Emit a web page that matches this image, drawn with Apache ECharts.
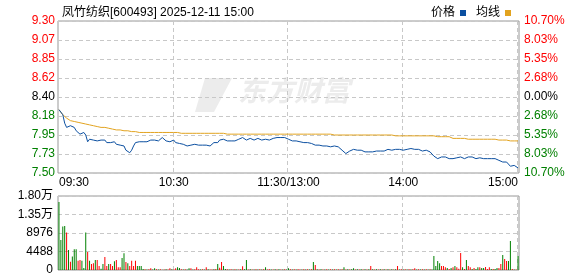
<!DOCTYPE html>
<html><head><meta charset="utf-8">
<script src="https://cdn.jsdelivr.net/npm/echarts@6/dist/echarts.min.js"></script>
<style>html,body{margin:0;padding:0;background:#fff}#c{width:578px;height:276px}</style>
</head><body><div id="c"></div>
<script>
const title = '凤竹纺织[600493] 2025-12-11 15:00';
const timeTickIdx = [0, 60, 120, 180, 240];
const timeTicks = ['09:30', '10:30', '11:30/13:00', '14:00', '15:00'];
const priceTicks = ['7.50','7.73','7.95','8.18','8.40','8.62','8.85','9.07','9.30'];
const pctTicks = ['10.70%','8.03%','5.35%','2.68%','0.00%','2.68%','5.35%','8.03%','10.70%'];
const volTicks = ['0','4488','8976','1.35万','1.80万'];

const price = [
8.25,8.24,8.19,8.09,8.04,8.06,8.06,8.08,8.04,8.00,
7.98,7.96,7.98,7.98,7.95,7.87,7.90,7.89,7.89,7.89,
7.88,7.87,7.89,7.91,7.89,7.86,7.85,7.86,7.85,7.87,
7.84,7.83,7.83,7.83,7.82,7.77,7.75,7.74,7.77,7.82,
7.86,7.87,7.87,7.86,7.87,7.85,7.87,7.88,7.89,7.89,
7.89,7.89,7.88,7.90,7.92,7.90,7.88,7.89,7.87,7.88,
7.89,7.86,7.86,7.85,7.85,7.84,7.82,7.82,7.83,7.83,
7.83,7.84,7.84,7.83,7.83,7.83,7.82,7.83,7.83,7.82,
7.82,7.86,7.87,7.86,7.89,7.91,7.90,7.89,7.88,7.88,
7.88,7.88,7.88,7.89,7.90,7.91,7.92,7.90,7.89,7.91,
7.91,7.90,7.89,7.90,7.91,7.90,7.89,7.90,7.90,7.89,
7.89,7.89,7.91,7.93,7.92,7.91,7.92,7.92,7.92,7.91,
7.90,7.89,7.88,7.87,7.88,7.86,7.87,7.86,7.86,7.86,
7.86,7.86,7.85,7.83,7.83,7.84,7.83,7.82,7.82,7.83,
7.82,7.82,7.81,7.81,7.82,7.82,7.81,7.79,7.77,7.75,
7.73,7.75,7.76,7.76,7.78,7.77,7.77,7.75,7.77,7.75,
7.75,7.75,7.75,7.75,7.75,7.75,7.76,7.76,7.76,7.76,
7.76,7.77,7.78,7.77,7.77,7.77,7.78,7.78,7.78,7.78,
7.77,7.78,7.78,7.79,7.79,7.78,7.78,7.78,7.78,7.76,
7.76,7.76,7.77,7.76,7.75,7.73,7.70,7.69,7.67,7.68,
7.69,7.69,7.69,7.69,7.67,7.67,7.67,7.67,7.68,7.69,
7.69,7.68,7.67,7.67,7.69,7.69,7.69,7.69,7.67,7.65,
7.68,7.67,7.67,7.67,7.67,7.67,7.67,7.67,7.67,7.66,
7.65,7.63,7.63,7.64,7.63,7.63,7.58,7.59,7.59,7.58,
7.56];

const avgPrice = [
8.25,8.22,8.19,8.17,8.15,8.13,8.12,8.11,8.11,8.10,
8.10,8.09,8.09,8.08,8.08,8.07,8.07,8.06,8.06,8.05,
8.05,8.05,8.04,8.04,8.04,8.03,8.03,8.02,8.02,8.02,
8.01,8.01,8.01,8.01,8.00,8.00,8.00,7.99,7.99,7.99,
7.99,7.98,7.98,7.98,7.98,7.98,7.98,7.98,7.98,7.98,
7.98,7.98,7.98,7.98,7.98,7.98,7.98,7.98,7.98,7.98,
7.98,7.98,7.98,7.97,7.97,7.97,7.97,7.97,7.97,7.97,
7.97,7.97,7.97,7.97,7.97,7.97,7.97,7.97,7.97,7.97,
7.97,7.97,7.97,7.97,7.97,7.97,7.97,7.97,7.96,7.96,
7.96,7.96,7.96,7.96,7.96,7.96,7.96,7.96,7.96,7.96,
7.96,7.96,7.96,7.96,7.96,7.96,7.96,7.96,7.96,7.96,
7.96,7.96,7.96,7.96,7.96,7.96,7.96,7.96,7.96,7.96,
7.96,7.96,7.96,7.96,7.96,7.96,7.96,7.96,7.96,7.96,
7.96,7.96,7.96,7.96,7.96,7.96,7.96,7.96,7.96,7.96,
7.96,7.96,7.96,7.96,7.95,7.95,7.95,7.95,7.95,7.95,
7.95,7.95,7.95,7.95,7.95,7.95,7.95,7.95,7.95,7.95,
7.95,7.95,7.95,7.95,7.95,7.95,7.95,7.95,7.95,7.95,
7.95,7.95,7.95,7.95,7.95,7.94,7.94,7.94,7.94,7.94,
7.94,7.94,7.94,7.94,7.94,7.94,7.94,7.94,7.94,7.94,
7.94,7.94,7.94,7.94,7.94,7.94,7.94,7.93,7.93,7.93,
7.93,7.93,7.93,7.93,7.93,7.91,7.91,7.91,7.91,7.91,
7.91,7.91,7.91,7.90,7.90,7.90,7.90,7.90,7.90,7.90,
7.90,7.90,7.90,7.90,7.90,7.90,7.90,7.90,7.90,7.90,
7.89,7.89,7.89,7.89,7.89,7.89,7.88,7.88,7.88,7.88,
7.88];

const volume = [
16500,7300,10550,10700,9100,4870,2030,3250,5030,5030,
2270,2440,2270,490,9100,4380,2270,1460,1620,2440,
2440,970,320,1460,3170,970,1460,1460,970,2110,
2440,650,650,2920,4060,1950,1620,970,2270,970,
2270,970,970,970,240,160,120,160,400,120,
400,160,120,160,80,120,160,120,400,160,
120,400,650,490,160,120,160,120,400,400,
120,160,650,160,120,160,120,650,160,120,
120,160,240,1460,570,1950,970,240,160,120,
160,120,160,120,120,160,890,160,2440,120,
160,120,120,160,120,160,120,160,650,120,
160,120,120,160,120,160,120,120,160,120,
400,160,120,160,120,160,120,120,160,120,
160,120,160,1950,1220,160,120,160,120,120,
160,120,160,120,160,120,160,120,160,650,
120,160,120,160,400,120,160,120,160,120,
160,120,160,970,160,120,160,120,160,120,
160,120,160,120,160,120,160,970,120,160,
120,160,120,160,120,160,400,120,160,120,
160,120,160,120,160,120,3410,970,2190,1620,
970,970,650,490,240,490,650,970,650,320,
4140,650,240,2440,970,650,240,490,240,650,
650,490,490,730,240,650,240,240,240,490,
490,1460,3650,2680,2190,2190,7060,240,120,120,
3410];

const volDir = [
'G','G','G','G','R','G','R','G','G','G',
'R','R','G','G','G','R','G','R','R','G',
'R','R','G','G','R','R','G','R','R','G',
'R','R','R','G','G','R','G','R','R','R',
'R','G','G','G','G','R','G','R','R','G',
'G','R','G','R','G','R','G','R','R','G',
'R','R','G','G','R','G','R','G','G','R',
'G','R','R','R','G','R','G','R','G','R',
'R','G','R','G','R','R','G','G','R','G',
'R','G','R','G','R','G','R','G','G','R',
'G','R','G','R','G','R','G','R','G','R',
'R','G','R','G','R','G','R','G','R','G',
'G','R','G','R','G','R','R','G','R','G',
'R','G','R','G','R','G','R','G','R','G',
'R','G','R','G','R','G','R','G','R','G',
'R','G','R','G','G','R','G','R','G','R',
'G','R','G','R','G','R','G','R','G','R',
'G','R','G','R','G','R','G','R','G','R',
'G','R','G','R','G','R','R','G','R','G',
'R','G','R','G','R','G','G','G','G','G',
'R','R','R','G','R','G','R','G','R','R',
'R','G','R','G','R','R','G','R','G','G',
'R','G','G','R','R','R','G','R','G','G',
'R','R','G','R','R','G','G','R','G','R',
'G'];

const RED = '#ff0000', GREEN = '#008000';
const FONT = '"Liberation Sans", Arial, "Noto Sans CJK SC", sans-serif';
const cats = price.map((_, i) => i);
const PMIN = 7.5, PMAX = 9.3, PSTEP = 0.225;
const pIdx = v => Math.round((Number(v) - PMIN) / PSTEP);
const pColor = v => { const i = pIdx(v); return i > 4 ? RED : (i < 4 ? GREEN : '#000'); };
const splitEvery60 = (i) => i > 0 && i % 60 === 0;
const dashed = { show: true, interval: splitEvery60, lineStyle: { color: '#c8c8c8', type: [4, 3], width: 1 } };

const chart = echarts.init(document.getElementById('c'), null, { renderer: 'canvas' });
chart.setOption({
  animation: false,
  textStyle: { fontFamily: FONT },
  title: { text: title, left: 57, top: 2, textStyle: { fontSize: 12, fontWeight: 'normal', color: '#000', fontFamily: FONT } },
  legend: {
    right: 62, top: 2, align: 'right', itemWidth: 6, itemHeight: 6, itemGap: 10,
    textStyle: { fontSize: 12, color: '#000', fontFamily: FONT },
    data: [{ name: '价格', icon: 'rect' }, { name: '均线', icon: 'rect' }]
  },
  graphic: [
    { type: 'polygon', z: 0, silent: true, shape: { points: [[205, 78], [232, 78], [214, 112], [195, 112]] }, style: { fill: '#ececec' } },
    { type: 'text', z: 0, silent: true, left: 238, top: 76, style: { text: '东方财富', fill: '#ececec', font: 'italic bold 28px "Noto Sans CJK SC", sans-serif' } }
  ],
  grid: [
    { left: 58, top: 21, width: 461, height: 152, show: true, borderColor: '#999', borderWidth: 1 },
    { left: 58, top: 196, width: 461, height: 74, show: true, borderColor: '#999', borderWidth: 1 }
  ],
  xAxis: [
    { type: 'category', gridIndex: 0, data: cats, boundaryGap: true,
      axisLine: { show: false }, axisTick: { show: false },
      axisLabel: { interval: (i) => i % 60 === 0, fontSize: 12, color: '#000', margin: 4,
        alignMinLabel: 'left', alignMaxLabel: 'right',
        formatter: (v) => timeTicks[timeTickIdx.indexOf(Number(v))] || '' },
      splitLine: dashed },
    { type: 'category', gridIndex: 1, data: cats, boundaryGap: true,
      axisLine: { show: false }, axisTick: { show: false }, axisLabel: { show: false },
      splitLine: dashed }
  ],
  yAxis: [
    { type: 'value', gridIndex: 0, min: PMIN, max: PMAX, interval: PSTEP,
      axisLine: { show: false }, axisTick: { show: false },
      axisLabel: { fontSize: 12, margin: 3, formatter: v => priceTicks[pIdx(v)], color: pColor },
      splitLine: { show: true, lineStyle: { color: '#c8c8c8', type: [4, 3], width: 1 } } },
    { type: 'value', gridIndex: 0, position: 'right', min: PMIN, max: PMAX, interval: PSTEP,
      axisLine: { show: false }, axisTick: { show: false },
      axisLabel: { fontSize: 12, margin: 5, formatter: v => pctTicks[pIdx(v)], color: pColor },
      splitLine: { show: false } },
    { type: 'value', gridIndex: 1, min: 0, max: 17952, interval: 4488,
      axisLine: { show: false }, axisTick: { show: false },
      axisLabel: { fontSize: 12, margin: 5, color: '#000', formatter: v => volTicks[Math.round(Number(v) / 4488)] },
      splitLine: { show: true, lineStyle: { color: '#c8c8c8', type: [4, 3], width: 1 } } }
  ],
  series: [
    { name: '价格', type: 'line', xAxisIndex: 0, yAxisIndex: 0, data: price, showSymbol: false,
      color: '#0b4fa0', lineStyle: { width: 1, color: '#0b4fa0' }, z: 4 },
    { name: '均线', type: 'line', xAxisIndex: 0, yAxisIndex: 0, data: avgPrice, showSymbol: false,
      color: '#e2a31f', lineStyle: { width: 1, color: '#e2a31f' }, z: 3 },
    { name: '成交量', type: 'bar', xAxisIndex: 1, yAxisIndex: 2, barWidth: 1,
      data: volume.map((v, i) => ({ value: v, itemStyle: { color: volDir[i] === 'R' ? RED : GREEN } })) }
  ]
});
</script>
</body></html>
